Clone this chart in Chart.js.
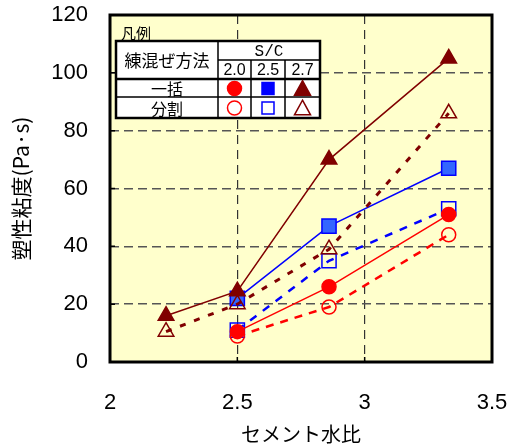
<!DOCTYPE html>
<html>
<head>
<meta charset="utf-8">
<script src="https://cdn.jsdelivr.net/npm/chart.js@4/dist/chart.umd.min.js"></script>
<style>
  html, body { margin: 0; padding: 0; background: #fff; }
  #wrap { width: 507px; height: 446px; position: relative; }
</style>
</head>
<body>
<div id="wrap"><canvas id="c" width="507" height="446"></canvas></div>
<script>
// セメント水比 (x) and 塑性粘度 (Pa·s) for each S/C and mixing method
const cementWaterRatio = [2.22, 2.5, 2.86, 3.33];
const sc27Batch = [16, 24.5, 70, 105];
const sc27Split = [10.5, 20, 39, 86];
const sc25Batch = [null, 22, 47, 67];
const sc25Split = [null, 11, 35, 53];
const sc20Batch = [null, 10.5, 26, 51];
const sc20Split = [null, 9, 19, 44];

const xTicks = [2, 2.5, 3, 3.5];
const yTicks = [0, 20, 40, 60, 80, 100, 120];

const scLabels = ['2.0', '2.5', '2.7'];
const methodLabels = ['一括', '分割'];

const DARK_RED = '#800000';
const BLUE = '#0000FF';
const BLUE_FILL = '#3366FF';
const RED = '#FF0000';

function pts(vals) {
  return cementWaterRatio
    .map((x, i) => ({ x: x, y: vals[i] }))
    .filter(p => p.y !== null);
}

function series(label, vals, color, fill, style, radius, dash, width) {
  return {
    label: label,
    data: pts(vals),
    showLine: true,
    tension: 0,
    borderColor: color,
    borderWidth: width,
    borderDash: dash,
    backgroundColor: color,
    pointStyle: style,
    pointRadius: radius,
    pointBackgroundColor: fill,
    pointBorderColor: color,
    pointBorderWidth: 1.5
  };
}

// first entry is painted on top
const datasets = [
  series('一括 2.7', sc27Batch, DARK_RED, DARK_RED, 'triangle', 9, [], 1.5),
  series('一括 2.0', sc20Batch, RED, RED, 'circle', 7, [], 1.5),
  series('分割 2.7', sc27Split, DARK_RED, 'rgba(0,0,0,0)', 'triangle', 9, [6, 9], 3),
  series('一括 2.5', sc25Batch, BLUE, BLUE_FILL, 'rect', 10, [], 1.5),
  series('分割 2.0', sc20Split, RED, 'rgba(0,0,0,0)', 'circle', 7, [8, 7], 2.5),
  series('分割 2.5', sc25Split, BLUE, 'rgba(0,0,0,0)', 'rect', 10, [8, 8], 2.5)
];

// yellow plot area, frame and inward tick marks
const plotFrame = {
  id: 'plotFrame',
  beforeDraw(chart) {
    const { ctx, chartArea: a } = chart;
    ctx.save();
    ctx.fillStyle = '#fff';
    ctx.fillRect(0, 0, chart.width, chart.height);
    ctx.fillStyle = '#FFFFCC';
    ctx.fillRect(a.left, a.top, a.right - a.left, a.bottom - a.top);
    ctx.restore();
  },
  afterDatasetsDraw(chart) {
    const { ctx, chartArea: a, scales } = chart;
    const x = scales.x, y = scales.y;
    ctx.save();
    ctx.strokeStyle = '#000';
    ctx.lineWidth = 1.5;
    ctx.beginPath();
    y.ticks.forEach(t => {
      const py = y.getPixelForValue(t.value);
      ctx.moveTo(a.left, py); ctx.lineTo(a.left + 5, py);
    });
    x.ticks.forEach(t => {
      const px = x.getPixelForValue(t.value);
      ctx.moveTo(px, a.bottom); ctx.lineTo(px, a.bottom - 5);
    });
    ctx.stroke();
    ctx.lineWidth = 3;
    ctx.strokeRect(a.left, a.top, a.right - a.left, a.bottom - a.top);
    ctx.restore();
  }
};

function marker(ctx, style, cx, cy, size, color, filled) {
  ctx.save();
  ctx.strokeStyle = color;
  ctx.fillStyle = color;
  ctx.lineWidth = 1.5;
  ctx.beginPath();
  if (style === 'circle') {
    ctx.arc(cx, cy, size / 2, 0, Math.PI * 2);
  } else if (style === 'rect') {
    ctx.rect(cx - size / 2, cy - size / 2, size, size);
  } else {
    const h = size * 0.85;
    ctx.moveTo(cx, cy - h / 2 - 1);
    ctx.lineTo(cx + size / 2, cy + h / 2);
    ctx.lineTo(cx - size / 2, cy + h / 2);
    ctx.closePath();
  }
  if (filled) ctx.fill();
  ctx.stroke();
  ctx.restore();
}

// 凡例 table in the upper left corner
const legendTable = {
  id: 'legendTable',
  afterDraw(chart) {
    const ctx = chart.ctx;
    const L = 116, R = 320, T = 41, B = 118;
    const c1 = 218, c2 = 251, c3 = 285;
    const r1 = 60, r2 = 79, r3 = 97;
    ctx.save();
    ctx.fillStyle = '#000';
    ctx.font = '15px "Noto Sans CJK JP"';
    ctx.textAlign = 'left';
    ctx.textBaseline = 'middle';
    ctx.fillText('凡例', 121, 33);

    ctx.fillStyle = '#fff';
    ctx.fillRect(L, T, R - L, B - T);

    ctx.strokeStyle = '#000';
    ctx.lineWidth = 1.5;
    ctx.beginPath();
    ctx.moveTo(c1, T); ctx.lineTo(c1, B);
    ctx.moveTo(c2, r1); ctx.lineTo(c2, B);
    ctx.moveTo(c3, r1); ctx.lineTo(c3, B);
    ctx.moveTo(c1, r1); ctx.lineTo(R, r1);
    ctx.moveTo(L, r3); ctx.lineTo(R, r3);
    ctx.stroke();
    ctx.lineWidth = 2.5;
    ctx.beginPath();
    ctx.moveTo(L, r2); ctx.lineTo(R, r2);
    ctx.stroke();
    ctx.strokeRect(L, T, R - L, B - T);

    ctx.fillStyle = '#000';
    ctx.textAlign = 'center';
    ctx.font = '17px "Noto Sans CJK JP"';
    ctx.fillText('練混ぜ方法', (L + c1) / 2, (T + r2) / 2 + 1);
    ctx.font = '16px "Noto Sans CJK JP"';
    ctx.fillText(methodLabels[0], (L + c1) / 2, (r2 + r3) / 2 + 1);
    ctx.fillText(methodLabels[1], (L + c1) / 2, (r3 + B) / 2 + 1);
    ctx.font = '16px "Liberation Mono"';
    ctx.fillText('S/C', (c1 + R) / 2, (T + r1) / 2 + 1);
    ctx.font = '16px "Liberation Sans"';
    const cols = [(c1 + c2) / 2, (c2 + c3) / 2, (c3 + R) / 2];
    cols.forEach((cx, i) => ctx.fillText(scLabels[i], cx, (r1 + r2) / 2 + 1));
    ctx.restore();

    const styles = [['circle', RED, 14], ['rect', BLUE, 12], ['triangle', DARK_RED, 16]];
    styles.forEach((s, i) => {
      marker(ctx, s[0], cols[i], (r2 + r3) / 2 + 0.5, s[2], s[1], true);
      marker(ctx, s[0], cols[i], (r3 + B) / 2 + 0.5, s[2], s[1], false);
    });
  }
};

function noEdgePadding(s) {
  s.paddingLeft = 0; s.paddingRight = 0; s.paddingTop = 0; s.paddingBottom = 0;
}

new Chart(document.getElementById('c'), {
  type: 'scatter',
  data: { datasets: datasets },
  plugins: [plotFrame, legendTable],
  options: {
    responsive: false,
    animation: false,
    events: [],
    layout: { padding: { top: 15, right: 15, left: 0, bottom: 0 } },
    plugins: { legend: { display: false }, tooltip: { enabled: false } },
    scales: {
      x: {
        type: 'linear',
        min: 2, max: 3.5,
        afterBuildTicks: s => { s.ticks = xTicks.map(v => ({ value: v })); },
        afterFit: s => { s.height = 84; noEdgePadding(s); },
        grid: {
          drawTicks: false,
          lineWidth: 1.2,
          color: c => (c.tick && (c.tick.value === 2 || c.tick.value === 3.5)) ? 'rgba(0,0,0,0)' : '#333'
        },
        border: { display: false, dash: [9, 6] },
        ticks: {
          padding: 28,
          color: '#000',
          font: { family: 'Liberation Sans', size: 22 },
          callback: v => String(v)
        },
        title: {
          display: true,
          text: 'セメント水比',
          color: '#000',
          font: { family: 'Noto Sans CJK JP', size: 20 },
          padding: { top: 2, bottom: 0 }
        }
      },
      y: {
        type: 'linear',
        min: 0, max: 120,
        afterBuildTicks: s => { s.ticks = yTicks.map(v => ({ value: v })); },
        afterFit: s => { s.width = 110; noEdgePadding(s); },
        grid: {
          drawTicks: false,
          lineWidth: 1.6,
          color: c => (c.tick && (c.tick.value === 0 || c.tick.value === 120)) ? 'rgba(0,0,0,0)' : '#555'
        },
        border: { display: false, dash: [9, 5] },
        ticks: {
          padding: 22,
          color: '#000',
          font: { family: 'Liberation Sans', size: 22 },
          callback: v => String(v)
        },
        title: {
          display: true,
          text: '塑性粘度(Pa·s)',
          color: '#000',
          font: { family: 'Noto Sans CJK JP', size: 21 },
          padding: { top: 8, bottom: 0 }
        }
      }
    }
  }
});
</script>
</body>
</html>
